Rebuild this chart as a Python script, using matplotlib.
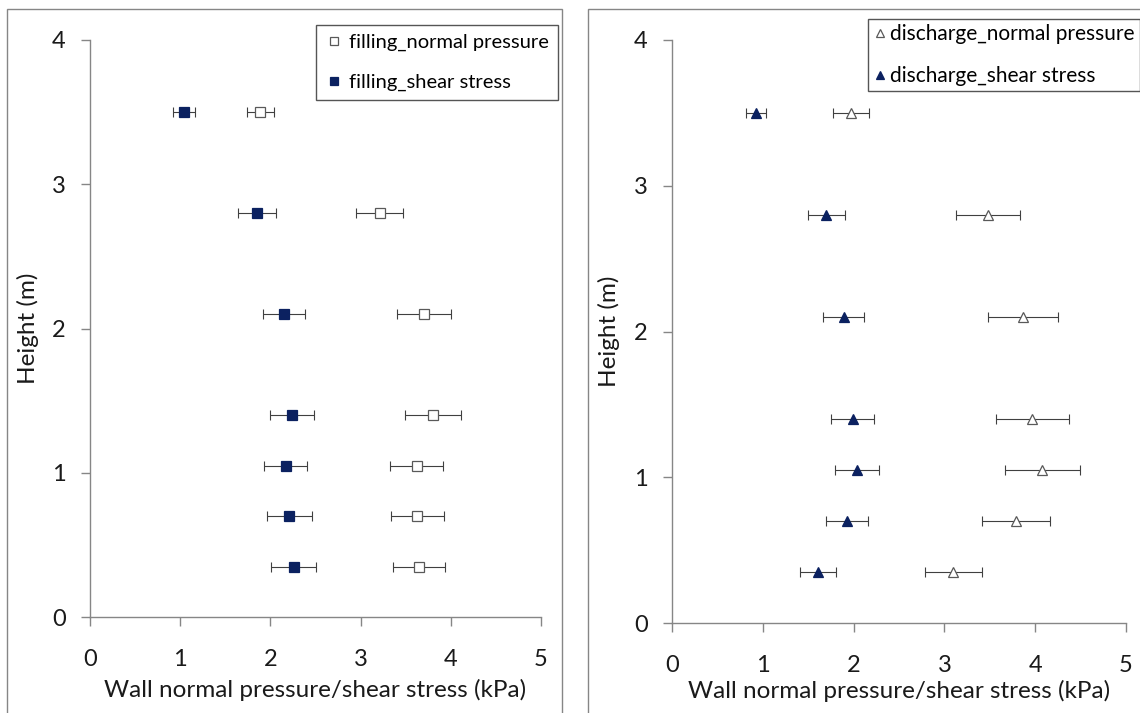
import matplotlib
matplotlib.use("Agg")
import matplotlib.pyplot as plt
from matplotlib.patches import Rectangle

plt.rcParams['font.family'] = ['Lato', 'DejaVu Sans']

# sampling heights along the silo wall (m)
heights = [0.35, 0.7, 1.05, 1.4, 2.1, 2.8, 3.5]

# filling
fill_normal = [3.65, 3.63, 3.62, 3.80, 3.70, 3.21, 1.89]
fill_normal_err = [0.29, 0.29, 0.29, 0.31, 0.30, 0.26, 0.15]
fill_shear = [2.26, 2.21, 2.17, 2.24, 2.15, 1.85, 1.04]
fill_shear_err = [0.25, 0.25, 0.24, 0.245, 0.235, 0.21, 0.12]

# discharge
dis_normal = [3.10, 3.79, 4.08, 3.97, 3.87, 3.48, 1.97]
dis_normal_err = [0.31, 0.375, 0.41, 0.40, 0.385, 0.35, 0.20]
dis_shear = [1.61, 1.93, 2.04, 1.99, 1.89, 1.70, 0.93]
dis_shear_err = [0.20, 0.23, 0.245, 0.24, 0.23, 0.205, 0.11]

NAVY = '#0b2160'
GREY = '#868686'
ERR = '#404040'
TXT = '#1a1a1a'

W, H = 1140, 713
fig = plt.figure(figsize=(W / 100, H / 100), dpi=100)


def px_box(x0, y0, x1, y1):
    # pixel box (top-left origin) -> figure fraction [left, bottom, width, height]
    return [x0 / W, 1 - y1 / H, (x1 - x0) / W, (y1 - y0) / H]


def panel(rect, normal, normal_err, shear, shear_err, marker, labels,
          leg_anchor, leg_kw, xlab_y, ylab_x):
    ax = fig.add_axes(rect)
    ax.errorbar(normal, heights, xerr=normal_err, fmt='none', ecolor=ERR,
                elinewidth=0.8, capsize=3.5, capthick=0.8)
    ax.errorbar(shear, heights, xerr=shear_err, fmt='none', ecolor=ERR,
                elinewidth=0.8, capsize=3.5, capthick=0.8)
    ax.plot(normal, heights, ls='none', marker=marker, ms=7.5, mfc='white',
            mec='#595959', mew=0.9, label=labels[0])
    ax.plot(shear, heights, ls='none', marker=marker, ms=7.5, mfc=NAVY,
            mec=NAVY, mew=0.9, label=labels[1])

    ax.set_xlim(0, 5)
    ax.set_ylim(0, 4)
    ax.set_xticks(range(0, 6))
    ax.set_yticks(range(0, 5))
    for s in ('top', 'right'):
        ax.spines[s].set_visible(False)
    for s in ('left', 'bottom'):
        ax.spines[s].set_color(GREY)
        ax.spines[s].set_linewidth(1.0)
    ax.tick_params(axis='both', direction='out', length=6.5, width=1.0,
                   color=GREY, labelsize=17, labelcolor=TXT)
    ax.tick_params(axis='y', pad=11)
    ax.tick_params(axis='x', pad=16.5)
    ax.set_xlabel('Wall normal pressure/shear stress (kPa)', fontsize=17.5,
                  color=TXT)
    ax.set_ylabel('Height (m)', fontsize=17.5, color=TXT)
    ax.xaxis.set_label_coords(0.5, xlab_y)
    ax.yaxis.set_label_coords(ylab_x, 0.5)

    leg = ax.legend(loc='upper right', bbox_to_anchor=leg_anchor,
                    bbox_transform=fig.transFigure, frameon=True,
                    fancybox=False, edgecolor='#555555', framealpha=1,
                    markerscale=0.7, borderaxespad=0, **leg_kw)
    leg.get_frame().set_linewidth(1.0)
    return ax


panel(px_box(90, 40, 541, 617), fill_normal, fill_normal_err,
      fill_shear, fill_shear_err, 's',
      ['filling_normal pressure', 'filling_shear stress'],
      (558 / W, 1 - 25 / H),
      dict(fontsize=14.5, borderpad=0.45, labelspacing=1.1,
           handlelength=0.9, handletextpad=0.3),
      -0.108, -0.113)
panel(px_box(672, 40, 1126, 623), dis_normal, dis_normal_err,
      dis_shear, dis_shear_err, '^',
      ['discharge_normal pressure', 'discharge_shear stress'],
      (1140 / W, 1 - 19 / H),
      dict(fontsize=15, borderpad=0.25, labelspacing=1.05,
           handlelength=0.6, handletextpad=0.2),
      -0.097, -0.115)

# outer frames around each chart
fig.add_artist(Rectangle((7 / W, -0.02), (562 - 7) / W, 1 - 9 / H + 0.02,
                         transform=fig.transFigure, fill=False,
                         edgecolor=GREY, linewidth=1.0))
fig.add_artist(Rectangle((588 / W, -0.02), 0.6, 1 - 9 / H + 0.02,
                         transform=fig.transFigure, fill=False,
                         edgecolor=GREY, linewidth=1.0))

fig.savefig('out.png', dpi=100)
